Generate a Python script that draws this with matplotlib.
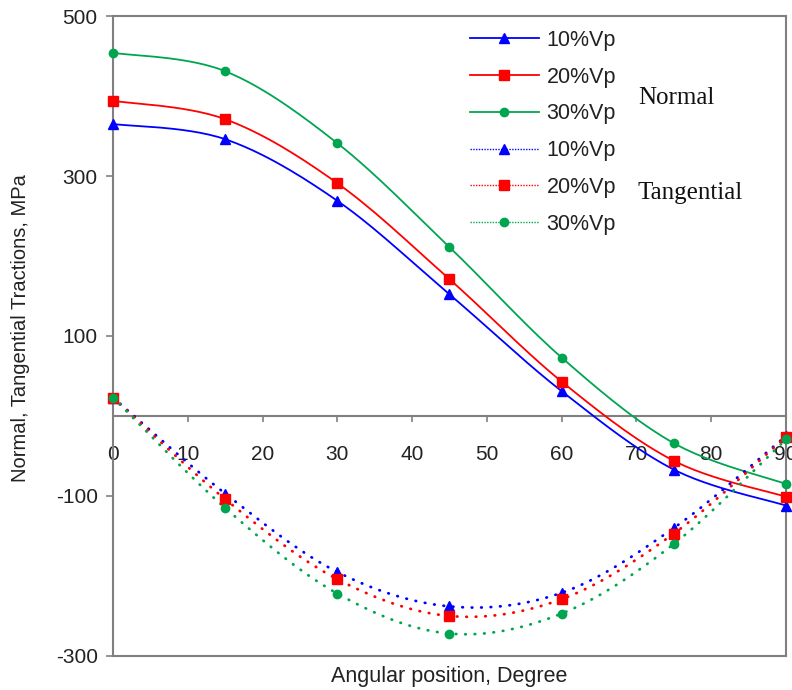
import matplotlib.pyplot as plt
import numpy as np
from matplotlib.lines import Line2D

# angular positions (degree)
angle = [0, 15, 30, 45, 60, 75, 90]

# normal tractions, MPa
normal_10 = [365, 346, 269, 152, 31, -67, -112]
normal_20 = [394, 371, 291, 171, 43, -56, -101]
normal_30 = [454, 431, 341, 211, 73, -34, -85]

# tangential tractions, MPa
tang_10 = [23, -97, -195, -238, -221, -140, -25]
tang_20 = [23, -104, -204, -250, -229, -147, -26]
tang_30 = [23, -115, -222, -272, -247, -160, -29]

labels = ['10%Vp', '20%Vp', '30%Vp']
colors = ['#0000FF', '#FF0000', '#00A550']
markers = ['^', 's', 'o']
msizes = [7, 6.5, 6]


def smooth(x, y, n=30):
    # excel-like smoothed line (catmull-rom bezier)
    x = np.asarray(x, float)
    y = np.asarray(y, float)
    pts = np.column_stack([x, y])
    out = []
    for i in range(len(pts) - 1):
        p0 = pts[max(i - 1, 0)]
        p1 = pts[i]
        p2 = pts[i + 1]
        p3 = pts[min(i + 2, len(pts) - 1)]
        c1 = p1 + (p2 - p0) / 6
        c2 = p2 - (p3 - p1) / 6
        t = np.linspace(0, 1, n)[:, None]
        seg = ((1 - t) ** 3 * p1 + 3 * (1 - t) ** 2 * t * c1
               + 3 * (1 - t) * t ** 2 * c2 + t ** 3 * p2)
        out.append(seg if i == 0 else seg[1:])
    seg = np.vstack(out)
    return seg[:, 0], seg[:, 1]


plt.rcParams['font.family'] = ['Liberation Sans', 'DejaVu Sans']
plt.rcParams['axes.unicode_minus'] = False
fig = plt.figure(figsize=(7.92, 6.9), dpi=100)
ax = fig.add_axes([0.1427, 0.0493, 0.8497, 0.9275])

gray = '#808080'
txt = '#222222'

for vals, c, m, ms in zip([normal_10, normal_20, normal_30], colors, markers, msizes):
    sx, sy = smooth(angle, vals)
    ax.plot(sx, sy, color=c, lw=1.3, zorder=3)
    ax.plot(angle, vals, ls='none', marker=m, ms=ms, color=c, zorder=4, clip_on=False)

for vals, c, m, ms in zip([tang_10, tang_20, tang_30], colors, markers, msizes):
    sx, sy = smooth(angle, vals)
    ax.plot(sx, sy, color=c, lw=2.0, ls=(0, (0.2, 3.2)), dash_capstyle='round', zorder=3)
    ax.plot(angle, vals, ls='none', marker=m, ms=ms, color=c, zorder=4, clip_on=False)

ax.set_xlim(0, 90)
ax.set_ylim(-300, 500)

# x axis through zero
ax.spines['bottom'].set_position(('data', 0))
for s in ax.spines.values():
    s.set_color(gray)
    s.set_linewidth(1.5)
ax.plot([0, 1], [0, 0], transform=ax.transAxes, color=gray, lw=1.5, clip_on=False)

ax.set_xticks(np.arange(0, 91, 10))
ax.set_yticks([500, 300, 100, -100, -300])
ax.tick_params(axis='x', direction='out', length=4, width=1.2, color=gray,
               pad=17, labelsize=15, labelcolor=txt)
ax.tick_params(axis='y', direction='out', length=5, width=1.2, color=gray,
               pad=6, labelsize=15, labelcolor=txt)

fig.text(0.5675, 0.02, 'Angular position, Degree', ha='center', va='center',
         fontsize=15.5, color=txt)
fig.text(0.026, 0.525, 'Normal, Tangential Tractions, MPa', ha='center', va='center',
         rotation=90, fontsize=14.5, color=txt)

# legend
handles = []
for c, m, ms in zip(colors, markers, msizes):
    handles.append(Line2D([], [], color=c, lw=1.3, marker=m, ms=ms))
for c, m, ms in zip(colors, markers, msizes):
    handles.append(Line2D([], [], color=c, lw=1.0, ls=(0, (1, 1)), marker=m, ms=ms))
leg = ax.legend(handles, labels * 2, loc='upper left', bbox_to_anchor=(470 / 792, 1 - 30 / 690),
                bbox_transform=fig.transFigure, frameon=False, fontsize=15.5,
                handlelength=3.2, handletextpad=0.35, labelspacing=0.73,
                borderaxespad=0, borderpad=0)
for t in leg.get_texts():
    t.set_color(txt)

serif = ['Liberation Serif', 'DejaVu Serif']
ax.text(638 / 792, 1 - 98 / 690, 'Normal', transform=fig.transFigure, ha='left', va='center',
        fontsize=18, family=serif, color='#111111')
ax.text(638 / 792, 1 - 193 / 690, 'Tangential', transform=fig.transFigure, ha='left', va='center',
        fontsize=18, family=serif, color='#111111')

fig.savefig('out.png', dpi=100)
